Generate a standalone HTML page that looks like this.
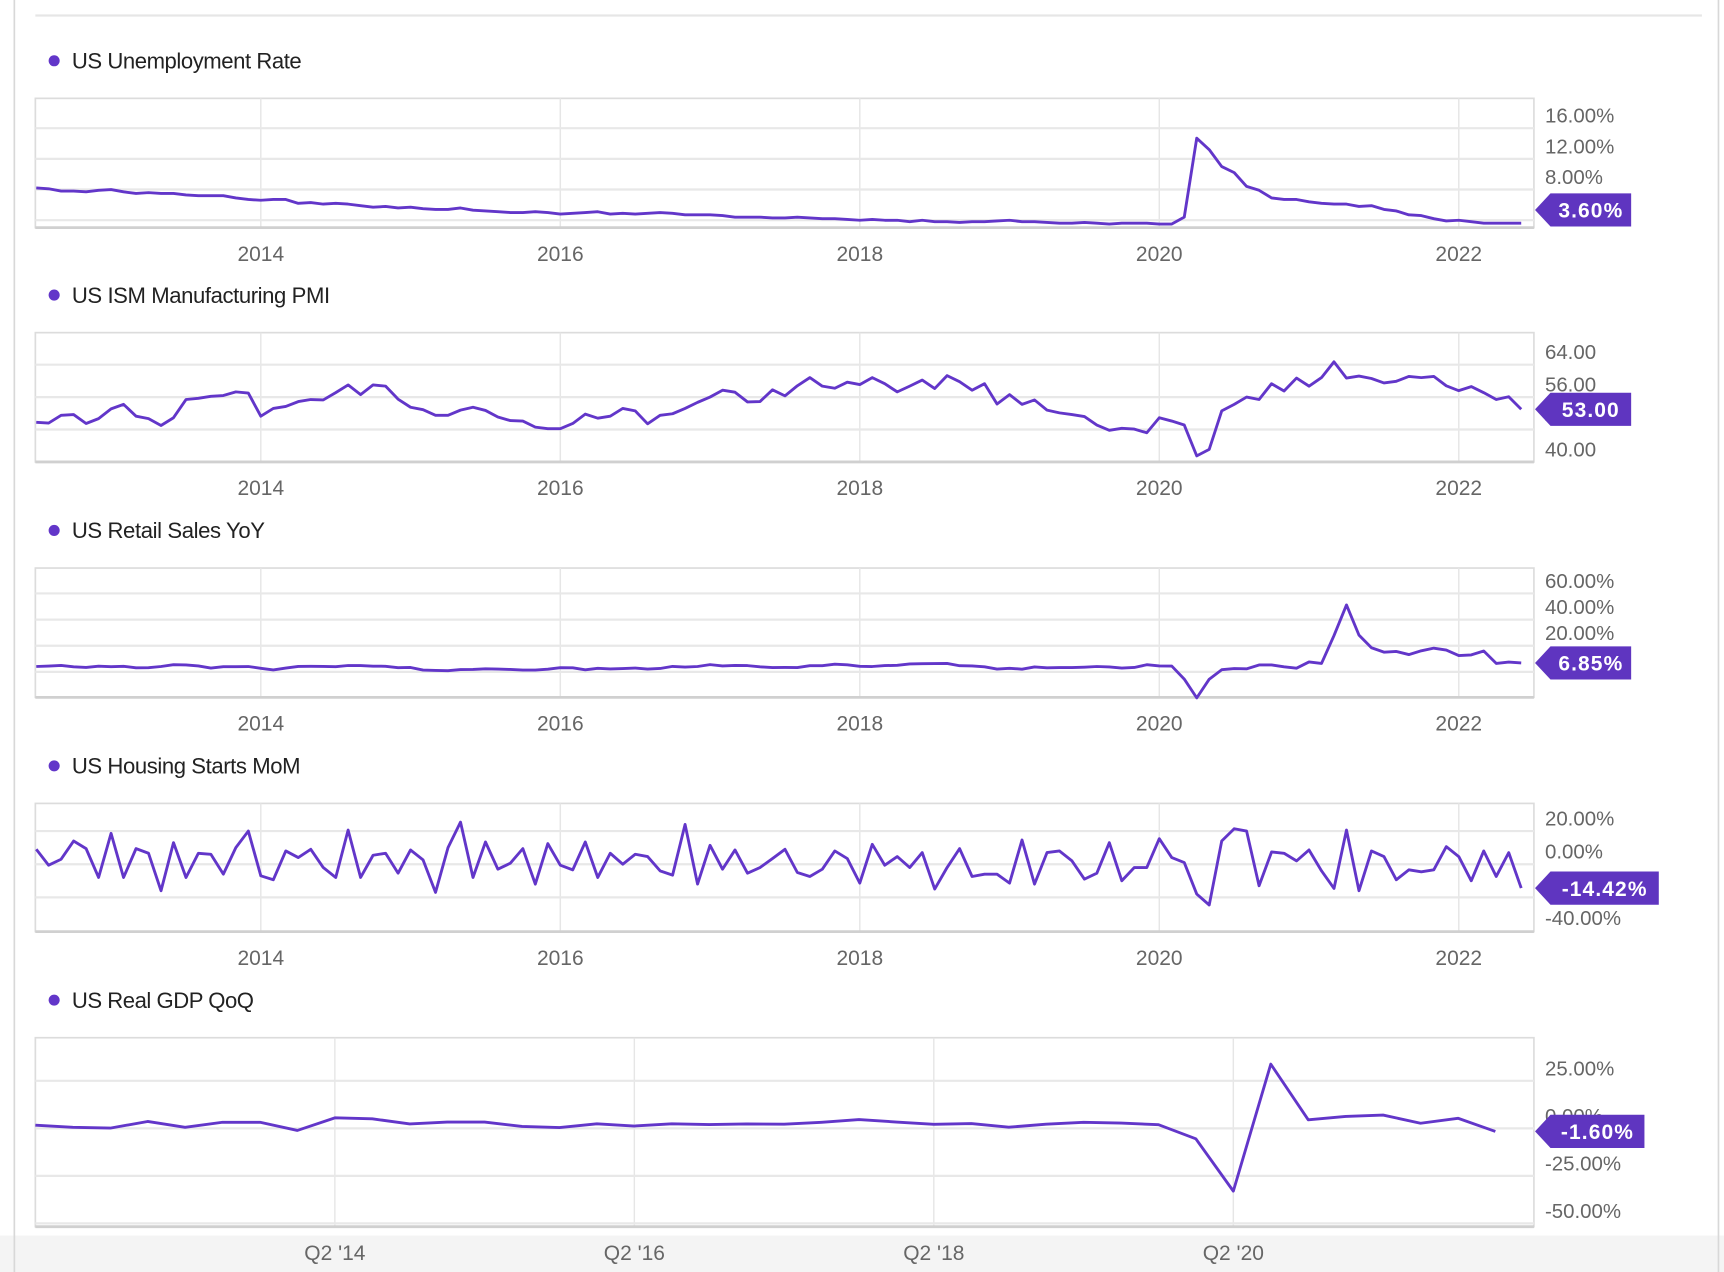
<!DOCTYPE html>
<html><head><meta charset="utf-8"><style>
body{margin:0;background:#fff;}
svg{display:block;font-family:"Liberation Sans",sans-serif;}
</style></head><body>
<svg id="c" width="1724" height="1272" viewBox="0 0 1560 1151" preserveAspectRatio="none" xmlns="http://www.w3.org/2000/svg">
<rect x="0" y="0" width="1560" height="1151" fill="#fff"/>
<rect x="0" y="1118" width="1560" height="33" fill="#f4f4f4"/>
<line x1="13" y1="0" x2="13" y2="1151" stroke="#d8d8d8" stroke-width="1.5"/>
<line x1="1555" y1="0" x2="1555" y2="1151" stroke="#d8d8d8" stroke-width="1.5"/>
<line x1="32" y1="14" x2="1540" y2="14" stroke="#e6e6e6" stroke-width="2"/>
</svg>
<script>
const months=[];for(let i=0;i<120;i++){months.push(2012.5+i/12);}
const quarters=[];for(let i=0;i<40;i++){quarters.push(2012.25+i/4);}
const yearTicks=[2014,2016,2018,2020,2022];
const quarterTicks=[2014.25,2016.25,2018.25,2020.25];
const quarterTickLabels=["Q2 '14","Q2 '16","Q2 '18","Q2 '20"];
const unemployment=[8.2,8.1,7.8,7.8,7.7,7.9,
8.0,7.7,7.5,7.6,7.5,7.5,7.3,7.2,7.2,7.2,6.9,6.7,
6.6,6.7,6.7,6.2,6.3,6.1,6.2,6.1,5.9,5.7,5.8,5.6,
5.7,5.5,5.4,5.4,5.6,5.3,5.2,5.1,5.0,5.0,5.1,5.0,
4.8,4.9,5.0,5.1,4.8,4.9,4.8,4.9,5.0,4.9,4.7,4.7,
4.7,4.6,4.4,4.4,4.4,4.3,4.3,4.4,4.3,4.2,4.2,4.1,
4.0,4.1,4.0,4.0,3.8,4.0,3.8,3.8,3.7,3.8,3.8,3.9,
4.0,3.8,3.8,3.7,3.6,3.6,3.7,3.6,3.5,3.6,3.6,3.6,
3.5,3.5,4.4,14.7,13.2,11.0,10.2,8.4,7.9,6.9,6.7,6.7,
6.4,6.2,6.1,6.1,5.8,5.9,5.4,5.2,4.7,4.6,4.2,3.9,
4.0,3.8,3.6,3.6,3.6,3.6];
const pmi=[49.8,49.6,51.5,51.7,49.5,50.7,
53.1,54.2,51.3,50.7,49.0,50.9,55.4,55.7,56.2,56.4,57.3,57.0,
51.3,53.2,53.7,54.9,55.4,55.3,57.1,59.0,56.6,59.0,58.7,55.5,
53.5,52.9,51.5,51.5,52.8,53.5,52.7,51.1,50.2,50.1,48.6,48.2,
48.2,49.5,51.8,50.8,51.3,53.2,52.6,49.4,51.5,51.9,53.2,54.7,
56.0,57.7,57.2,54.8,54.9,57.8,56.3,58.8,60.8,58.7,58.2,59.7,
59.1,60.8,59.3,57.3,58.7,60.2,58.1,61.3,59.8,57.7,59.3,54.3,
56.6,54.2,55.3,52.8,52.1,51.7,51.2,49.1,47.8,48.3,48.1,47.2,
50.9,50.1,49.1,41.5,43.1,52.6,54.2,56.0,55.4,59.3,57.5,60.7,
58.7,60.8,64.7,60.7,61.2,60.6,59.5,59.9,61.1,60.8,61.1,58.8,
57.6,58.6,57.1,55.4,56.1,53.0];
const retail=[4.1,4.5,5.0,3.9,3.5,4.4,
4.0,4.3,3.1,3.2,4.1,5.5,5.3,4.6,3.0,4.0,4.0,4.1,
2.8,1.5,3.0,4.2,4.3,4.2,4.0,4.9,4.8,4.4,4.3,3.2,
3.4,1.4,1.1,0.9,1.8,1.9,2.4,2.2,1.9,1.4,1.4,2.1,
3.2,3.1,1.6,2.8,2.3,2.5,3.0,2.2,2.6,4.2,3.7,4.1,
5.6,4.6,5.0,4.8,3.9,3.3,3.4,3.3,4.7,4.7,5.9,5.4,
4.3,4.1,4.8,5.1,6.1,6.3,6.4,6.5,4.7,4.6,3.9,2.2,
2.8,2.1,3.8,3.1,3.3,3.3,3.6,4.1,3.8,3.0,3.4,5.5,
4.6,4.5,-5.5,-19.9,-5.6,1.7,2.5,2.4,5.3,5.3,3.9,2.9,
7.6,6.5,27.8,51.2,28.1,18.5,15.1,15.6,13.3,16.1,18.2,16.7,
12.5,13.0,16.0,6.5,7.5,6.85];
const housing=[9,-0.6,3,14,9.4,-8,18.6,-8,9.4,6.6,-16,13,-8,6.6,6,-6,10,20,-7,-9.4,
8,4,9,-2,-8,20.6,-8,5.4,6.6,-5.4,8.6,2.6,-17,10,25.4,-8,13.4,-3,0.6,9.4,
-12,12.4,-0.6,-3.4,13.4,-8,6.6,0,6,4.6,-4,-6.6,24,-12,11.4,-3,8.6,-5.4,-2,3.4,
9,-5,-7.4,-3,8,3.4,-11.4,12,-0.6,4.6,-2,7,-15,-2,9.4,-7.4,-6,-6,-11.4,14.6,
-12,7,8,2,-9,-5.4,13,-10,-2,-2,15.4,4,1,-18,-24.6,14,21.4,20,-13,7.4,
6.6,2,8.6,-4,-14.6,20.6,-16,8,4.6,-9.4,-3.4,-4.6,-3.4,10.6,4.6,-10,8,-7.4,7,-14.42];
const gdp=[1.7,0.5,0.1,3.6,0.5,3.2,3.2,-1.1,5.5,5.0,2.3,3.3,3.3,1.0,0.4,2.4,1.2,2.4,2.0,2.3,
2.2,3.2,4.6,3.3,2.1,2.5,0.6,2.2,3.2,2.8,1.9,-5.5,-33,33.8,4.5,6.3,7.0,2.7,5.3,-1.6];
const titles=["US Unemployment Rate","US ISM Manufacturing PMI","US Retail Sales YoY","US Housing Starts MoM","US Real GDP QoQ"];
const badgeLabels=["3.60%","53.00","6.85%","-14.42%","-1.60%"];
const unempTicks=[16,12,8,4];const pmiTicks=[64,56,48,40];const retailTicks=[60,40,20,0];
const housingTicks=[20,0,-20,-40];const gdpTicks=[50,25,0,-25,-50];

const NS="http://www.w3.org/2000/svg";const svg=document.getElementById('c');
function el(t,a,p){const e=document.createElementNS(NS,t);for(const k in a)e.setAttribute(k,a[k]);(p||svg).appendChild(e);return e;}
const X0=32,X1=1388;
const xYear=v=>236+(v-2014)*135.5;
const xQuarter=v=>303+(v-2014.25)*135.5;
const panels=[
 {xs:months,xf:xYear,ys:unemployment,ticks:unempTicks,fmt:v=>v.toFixed(2)+'%',top:89,bot:206,v0:0,p0:227,v1:16,p1:116,bw:87,xt:yearTicks,xl:yearTicks.map(String)},
 {xs:months,xf:xYear,ys:pmi,ticks:pmiTicks,fmt:v=>v.toFixed(2),top:301,bot:418,v0:40,p0:418,v1:64,p1:330,bw:87,xt:yearTicks,xl:yearTicks.map(String)},
 {xs:months,xf:xYear,ys:retail,ticks:retailTicks,fmt:v=>v.toFixed(2)+'%',top:514,bot:631,v0:0,p0:608,v1:60,p1:537,bw:87,xt:yearTicks,xl:yearTicks.map(String)},
 {xs:months,xf:xYear,ys:housing,ticks:housingTicks,fmt:v=>v.toFixed(2)+'%',top:727,bot:843,v0:0,p0:782,v1:20,p1:752,bw:112,xt:yearTicks,xl:yearTicks.map(String)},
 {xs:quarters,xf:xQuarter,ys:gdp,ticks:gdpTicks,fmt:v=>v.toFixed(2)+'%',top:939,bot:1110,v0:0,p0:1021,v1:25,p1:978,bw:99,xt:quarterTicks,xl:quarterTickLabels}
];
const names=['unemployment','pmi','retail-sales','housing-starts','gdp'];
panels.forEach((p,i)=>{
 const g=el('g',{});
 
 
 const yS=v=>p.p0+(v-p.v0)*(p.p1-p.p0)/(p.v1-p.v0);
 const tt=el('g',{},g);
 
 
 el('circle',{cx:49,cy:p.top-34,r:5,fill:'#6236c9'},tt);
 const t=el('text',{x:65,y:p.top-27,'font-size':20,fill:'#222'},tt);t.textContent=titles[i];
 t.setAttribute('textLength',(t.getComputedTextLength()*0.965).toFixed(1));
 el('rect',{x:X0,y:p.top,width:X1-X0,height:p.bot-p.top,fill:'#fff',stroke:'#dcdcdc','stroke-width':1.5},g);
 p.xt.forEach((v,j)=>{const x=p.xf(v);
  el('line',{x1:x,y1:p.top,x2:x,y2:p.bot,stroke:'#e6e6e6','stroke-width':1.3},g);
  const l=el('text',{x:x,y:p.bot+30,'font-size':19,fill:'#666','text-anchor':'middle'},g);
  
  
  l.textContent=p.xl[j];});
 p.ticks.forEach(v=>{const y=yS(v);
  if(y>p.top+2&&y<p.bot-2) el('line',{x1:X0,y1:y,x2:X1,y2:y,stroke:'#e8e8e8','stroke-width':2},g);
  if(y<p.top+5) return;
  const l=el('text',{x:1398,y:y-5,'font-size':18.5,fill:'#666'},g);
  
  
  l.textContent=p.fmt(v);});
 el('line',{x1:X0,y1:p.bot,x2:X1,y2:p.bot,stroke:'#d0d0d0','stroke-width':2.5},g);
 const d=p.ys.map((v,k)=>(k?'L':'M')+p.xf(p.xs[k]).toFixed(1)+' '+yS(v).toFixed(1)).join(' ');
 const path=el('path',{d:d,fill:'none',stroke:'#6236c9','stroke-width':2.6,'stroke-linejoin':'round'},g);
 
 
 const by=Math.min(yS(p.ys[p.ys.length-1]),p.bot-16);const bx=1389,bh=30;
 const b=el('g',{},g);
 
 
 el('polygon',{points:`${bx},${by} ${bx+14},${by-bh/2} ${bx+p.bw},${by-bh/2} ${bx+p.bw},${by+bh/2} ${bx+14},${by+bh/2}`,fill:'#5f35c0'},b);
 const bt=el('text',{x:bx+14+(p.bw-14)/2,y:by+7,'font-size':19,'font-weight':'bold',fill:'#fff','text-anchor':'middle','letter-spacing':'1'},b);
 bt.textContent=badgeLabels[i];
});
</script>
</body></html>
